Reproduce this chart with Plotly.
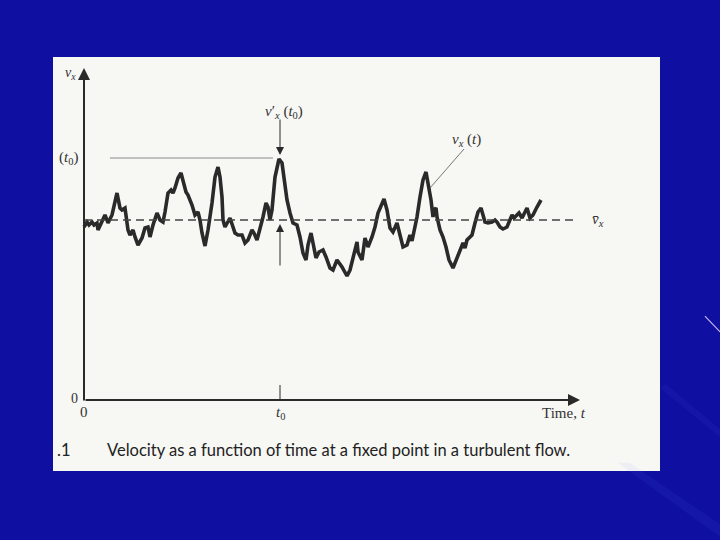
import plotly.graph_objects as go

# time (arbitrary units) and velocity v_x (arbitrary units)
t_vals = [0, 3, 5, 8, 10, 13, 14, 18, 21, 23, 24, 28, 31, 33, 36, 38, 41, 44, 46, 49,
          51, 54, 58, 61, 64, 66, 69, 73, 76, 79, 81, 84, 87, 89, 91, 94, 97, 99, 102, 104,
          108, 111, 114, 116, 118, 121, 124, 128, 131, 134, 136, 138, 139, 141, 143, 146, 149, 151, 154, 158,
          161, 164, 168, 170, 173, 176, 179, 182, 184, 186, 188, 191, 195, 198, 201, 203, 206, 209, 213, 216,
          219, 222, 224, 227, 229, 232, 235, 239, 242, 246, 249, 253, 258, 263, 266, 269, 273, 274, 278, 281,
          284, 288, 291, 294, 298, 300, 303, 306, 309, 313, 316, 319, 323, 326, 328, 333, 336, 339, 342, 344,
          347, 349, 350, 352, 353, 356, 359, 362, 365, 369, 372, 376, 379, 381, 383, 385, 388, 391, 394, 397,
          399, 401, 404, 408, 411, 413, 416, 419, 423, 426, 428, 430, 433, 435, 438, 441, 443, 446, 449, 453, 457]
v_vals = [173, 178, 175, 178, 175, 177, 170, 178, 185, 180, 177, 185, 197, 207, 192, 190, 192, 170, 165, 170,
          163, 155, 162, 172, 173, 163, 175, 187, 180, 178, 188, 207, 210, 207, 212, 222, 227, 220, 208, 205,
          195, 185, 188, 180, 167, 154, 170, 197, 223, 233, 223, 203, 180, 173, 177, 182, 173, 167, 165, 165,
          157, 160, 170, 167, 160, 170, 183, 197, 193, 180, 190, 223, 241, 237, 213, 200, 187, 177, 175, 163,
          147, 140, 155, 167, 157, 142, 148, 150, 143, 132, 130, 140, 133, 124, 130, 143, 158, 148, 140, 162,
          153, 163, 173, 187, 197, 201, 190, 172, 168, 177, 165, 153, 155, 165, 159, 183, 203, 220, 228, 217,
          200, 183, 190, 192, 183, 170, 163, 153, 140, 132, 140, 150, 157, 152, 160, 162, 165, 177, 188, 192,
          183, 178, 177, 178, 180, 178, 173, 171, 173, 180, 185, 182, 185, 187, 182, 188, 192, 182, 185, 193, 200]

mean_v = 180
t0 = 196
v_t0 = 242
t_axis_end = 496
v_axis_end = 332

caption_num = ".1"
caption = "Velocity as a function of time at a fixed point in a turbulent flow."

ink = "#2a2a2a"
serif = "Liberation Serif"
slide_blue = "#0f0fa2"

fig = go.Figure()
fig.add_trace(go.Scatter(x=t_vals, y=v_vals, mode="lines",
                         line=dict(color=ink, width=3.6),
                         hoverinfo="skip", showlegend=False))

shapes = [
    # very faint background streaks on the slide (lower right)
    dict(type="path", xref="paper", yref="paper", layer="below",
         path="M 0.93,0.02 L 1.10,-0.16 L 1.10,-0.13 L 0.95,0.02 Z",
         fillcolor="rgba(120,140,255,0.07)", line=dict(width=0)),
    dict(type="path", xref="paper", yref="paper", layer="below",
         path="M 1.00,0.20 L 1.10,0.08 L 1.10,0.10 L 1.01,0.21 Z",
         fillcolor="rgba(120,140,255,0.06)", line=dict(width=0)),
    dict(type="line", xref="paper", yref="paper", x0=1.074, y0=0.374, x1=1.099, y1=0.336,
         line=dict(color="#c8b8f0", width=1.2)),
    # mean line
    dict(type="line", xref="x", yref="y", x0=0, x1=493, y0=mean_v, y1=mean_v,
         line=dict(color="#444", width=1.3, dash="8px,5px")),
    # v(t0) level line
    dict(type="line", xref="x", yref="y", x0=26, x1=189, y0=v_t0, y1=v_t0,
         line=dict(color="#8a8a8a", width=1)),
    # t0 tick
    dict(type="line", xref="x", yref="y", x0=t0, x1=t0, y0=0, y1=15,
         line=dict(color=ink, width=1)),
    # leader for v_x(t)
    dict(type="line", xref="x", yref="y", x0=380, x1=346, y0=251, y1=212,
         line=dict(color="#555", width=0.8)),
]

annotations = []

def arrow(x, y, ax, ay, width=2, size=1.2):
    annotations.append(dict(x=x, y=y, ax=ax, ay=ay, xref="x", yref="y", axref="x", ayref="y",
                            text="", showarrow=True, arrowhead=2, arrowsize=size,
                            arrowwidth=width, arrowcolor=ink, standoff=0, startstandoff=0))

arrow(0, v_axis_end, 0, -2)
arrow(t_axis_end, 0, 0, 0)
arrow(t0, v_t0 + 3, t0, 282, width=1, size=1.6)
arrow(t0, mean_v - 4, t0, 133, width=1, size=1.6)

def label(x, y, text, size=15, xanchor="center", family=serif, color="#333"):
    annotations.append(dict(x=x, y=y, xref="x", yref="y", text=text, showarrow=False,
                            xanchor=xanchor, yanchor="middle",
                            font=dict(family=family, size=size, color=color)))

label(-14, 327, "<i>v<sub>x</sub></i>", size=14)
label(-16, v_t0, "(<i>t</i><sub>0</sub>)", size=15)
label(-10, 2, "0", size=14)
label(0, -12, "0", size=15)
label(t0, -13, "<i>t</i><sub>0</sub>", size=15)
label(480, -13, "Time, <i>t</i>", size=15)
label(514, mean_v, "<i>v̄<sub>x</sub></i>", size=15)
label(382, 260, "<i>v<sub>x</sub></i> (<i>t</i>)", size=15)
label(200, 288, "<i>v</i>′<sub><i>x</i></sub> (<i>t</i><sub>0</sub>)", size=15)
label(-29, -50, caption_num, size=16.5, xanchor="left", family="Lato", color="#222")
label(21, -50, caption, size=16.5, xanchor="left", family="Lato", color="#222")

fig.update_layout(
    width=720, height=540, autosize=False,
    margin=dict(l=53, r=60, t=57, b=69),
    paper_bgcolor=slide_blue,
    plot_bgcolor="#f7f7f4",
    xaxis=dict(range=[-31, 576], visible=False, fixedrange=True),
    yaxis=dict(range=[-71, 343], visible=False, fixedrange=True),
    shapes=shapes,
    annotations=annotations,
    showlegend=False,
)

fig.write_html("out.html",
               config={"displayModeBar": False},
               post_script="document.body.style.margin='0';document.body.style.background='"
                           + slide_blue + "';")
